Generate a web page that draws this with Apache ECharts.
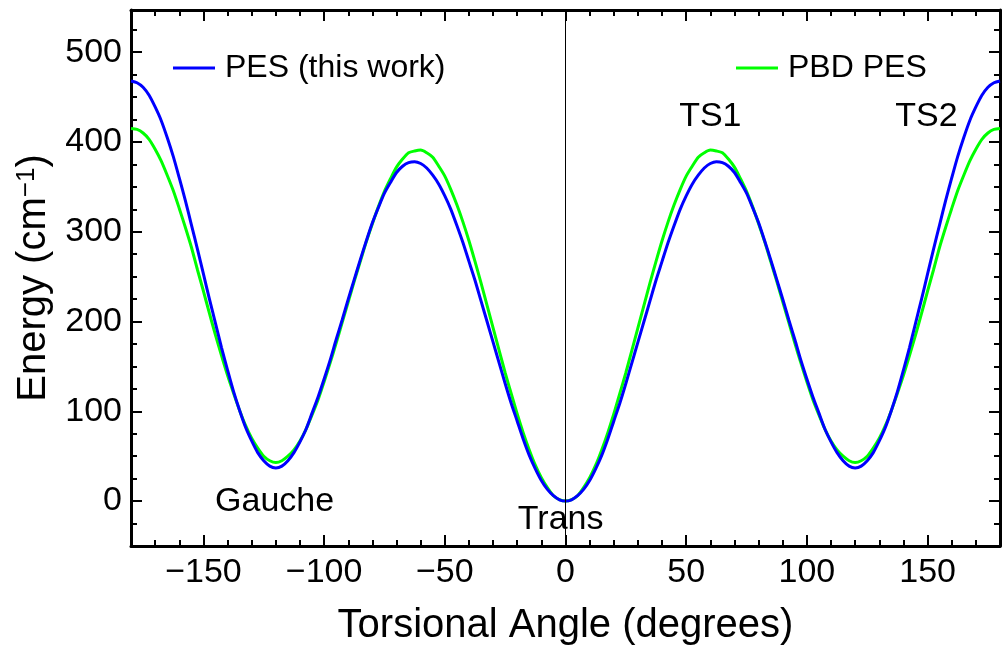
<!DOCTYPE html>
<html>
<head>
<meta charset="utf-8">
<script src="https://cdn.jsdelivr.net/npm/echarts@6/dist/echarts.min.js"></script>
<style>
  html, body { margin: 0; padding: 0; background: #fff; }
  #chart { width: 1003px; height: 656px; }
</style>
</head>
<body>
<div id="chart"></div>
<script>
// ---- data ----
const angles = [-180,-177.5,-175,-172.5,-170,-167.5,-165,-162.5,-160,-157.5,-155,-152.5,-150,-147.5,-145,-142.5,-140,-137.5,-135,-132.5,
  -130,-127.5,-125,-122.5,-120,-117.5,-115,-112.5,-110,-107.5,-105,-102.5,-100,-97.5,-95,-92.5,-90,-87.5,-85,-82.5,
  -80,-77.5,-75,-72.5,-70,-67.5,-65,-62.5,-60,-57.5,-55,-52.5,-50,-47.5,-45,-42.5,-40,-37.5,-35,-32.5,
  -30,-27.5,-25,-22.5,-20,-17.5,-15,-12.5,-10,-7.5,-5,-2.5,
  0,2.5,5,7.5,10,12.5,15,17.5,20,22.5,25,27.5,30,32.5,35,37.5,40,42.5,45,47.5,
  50,52.5,55,57.5,60,62.5,65,67.5,70,72.5,75,77.5,80,82.5,85,87.5,90,92.5,95,97.5,
  100,102.5,105,107.5,110,112.5,115,117.5,120,122.5,125,127.5,130,132.5,135,137.5,140,142.5,145,147.5,
  150,152.5,155,157.5,160,162.5,165,167.5,170,172.5,175,177.5,180];
const pesThisWork = [468,466,461,452,439,424,405,384,360,335,308,281,253,225,198,171,146,122,101,82,
  67,54,45,39,37,39,45,54,66,80,98,116,136,157,180,202,225,247,269,290,
  310,327,343,355,366,373,377,378,376,371,363,353,340,325,307,288,267,246,223,200,
  177,154,131,109,89,69,51,36,23,13,6,1.5,
  0,1.5,6,13,23,36,51,69,89,109,131,154,177,200,223,246,267,288,307,325,
  340,353,363,371,376,378,377,373,366,355,343,327,310,290,269,247,225,202,180,157,
  136,116,98,80,66,54,45,39,37,39,45,54,67,82,101,122,146,171,198,225,
  253,281,308,335,360,384,405,424,439,452,461,466,468];
const pbdPes = [415,414,410,403,392,379,363,346,326,305,283,258,234,209,185,162,140,120,101,84,
  70,59,50,45,43,45,50,57,67,80,96,113,133,154,176,199,222,245,267,289,
  309,328,345,359,372,381,388,390,391,388,383,373,362,347,330,311,290,267,243,218,
  193,168,143,120,97,76,57,40,26,15,6,1.6,
  0,1.6,6,15,26,40,57,76,97,120,143,168,193,218,243,267,290,311,330,347,
  362,373,383,388,391,390,388,381,372,359,345,328,309,289,267,245,222,199,176,154,
  133,113,96,80,67,57,50,45,43,45,50,59,70,84,101,120,140,162,185,209,
  234,258,283,305,326,346,363,379,392,403,410,414,415];
const seriesNames = ['PES (this work)', 'PBD PES'];
const xMajorTicks = [-150,-100,-50,0,50,100,150];
const xMinorTicks = [-170,-160,-140,-130,-120,-110,-90,-80,-70,-60,-40,-30,-20,-10,10,20,30,40,60,70,80,90,110,120,130,140,160,170];
const yMajorTicks = [0,100,200,300,400,500];
const yMinorTicks = [-25,25,50,75,125,150,175,225,250,275,325,350,375,425,450,475,525];
const annotations = [
  { name: 'TS1', value: [60, 428] },
  { name: 'TS2', value: [149.5, 428] },
  { name: 'Gauche', value: [-120.5, -1] },
  { name: 'Trans', value: [-2, -21] }
];

// ---- chart ----
const FONT = '"Liberation Sans", Arial, Helvetica, sans-serif';
const minus = v => String(v).replace('-', '\u2212');

function xAx(pos, ticks, len, showLine, showLabel) {
  return {
    type: 'value', position: pos, min: -180, max: 180,
    axisLine: { show: showLine, onZero: false, lineStyle: { color: '#000', width: 3 } },
    axisTick: { show: true, inside: true, length: len, customValues: ticks, lineStyle: { color: '#000', width: 2 } },
    axisLabel: showLabel ? { show: true, customValues: ticks, formatter: minus, fontSize: 34, color: '#000', fontFamily: FONT, margin: 10 } : { show: false },
    splitLine: { show: false }
  };
}
function yAx(pos, ticks, len, showLine, showLabel) {
  return {
    type: 'value', position: pos, min: -50, max: 547,
    axisLine: { show: showLine, onZero: false, lineStyle: { color: '#000', width: 3 } },
    axisTick: { show: true, inside: true, length: len, customValues: ticks, lineStyle: { color: '#000', width: 2 } },
    axisLabel: showLabel ? { show: true, customValues: ticks, formatter: minus, fontSize: 34, color: '#000', fontFamily: FONT, margin: 9 } : { show: false },
    splitLine: { show: false }
  };
}

const xAxes = [
  xAx('bottom', xMajorTicks, 11, true, true),
  xAx('bottom', xMinorTicks, 6, false, false),
  xAx('top', xMajorTicks, 11, true, false),
  xAx('top', xMinorTicks, 6, false, false)
];
Object.assign(xAxes[0], {
  name: 'Torsional Angle (degrees)', nameLocation: 'middle', nameGap: 60,
  nameTextStyle: { fontSize: 40, color: '#000', fontFamily: FONT }
});
const yAxes = [
  yAx('left', yMajorTicks, 11, true, true),
  yAx('left', yMinorTicks, 6, false, false),
  yAx('right', yMajorTicks, 11, true, false),
  yAx('right', yMinorTicks, 6, false, false)
];
Object.assign(yAxes[0], {
  name: '{a|Energy (cm}{s|\u22121}{a|)}', nameLocation: 'middle', nameGap: 72, nameRotate: 90,
  nameTextStyle: {
    color: '#000', fontFamily: FONT,
    rich: {
      a: { fontSize: 40, color: '#000', fontFamily: FONT },
      s: { fontSize: 26, color: '#000', fontFamily: FONT, verticalAlign: 'top', padding: [0, 0, 16, 0] }
    }
  }
});

const option = {
  animation: false,
  backgroundColor: '#fff',
  grid: { left: 131, right: 3, top: 10, bottom: 110, containLabel: false },
  xAxis: xAxes,
  yAxis: yAxes,
  legend: [
    { data: [seriesNames[0]], left: 168, top: 47, icon: 'rect', itemWidth: 42, itemHeight: 3, itemGap: 0,
      textStyle: { fontSize: 32, color: '#000', fontFamily: FONT, padding: [0, 0, 0, 5] } },
    { data: [seriesNames[1]], left: 731, top: 47, icon: 'rect', itemWidth: 42, itemHeight: 3, itemGap: 0,
      textStyle: { fontSize: 32, color: '#000', fontFamily: FONT, padding: [0, 0, 0, 5] } }
  ],
  series: [
    {
      name: seriesNames[1], type: 'line', xAxisIndex: 0, yAxisIndex: 0,
      data: angles.map((a, i) => [a, pbdPes[i]]),
      smooth: 0.25, showSymbol: false, symbol: 'none',
      lineStyle: { color: '#00ff00', width: 3 }, itemStyle: { color: '#00ff00' }, z: 2
    },
    {
      name: seriesNames[0], type: 'line', xAxisIndex: 0, yAxisIndex: 0,
      data: angles.map((a, i) => [a, pesThisWork[i]]),
      smooth: 0.25, showSymbol: false, symbol: 'none',
      lineStyle: { color: '#0000ff', width: 3 }, itemStyle: { color: '#0000ff' }, z: 3,
      markLine: {
        silent: true, symbol: ['none', 'none'], label: { show: false },
        lineStyle: { color: '#000', width: 1, type: 'solid' },
        data: [{ xAxis: 0 }], z: 10
      }
    },
    {
      type: 'scatter', xAxisIndex: 0, yAxisIndex: 0, symbolSize: 0, silent: true, z: 12,
      itemStyle: { opacity: 1 },
      data: annotations,
      label: { show: true, position: 'inside', formatter: p => p.name, fontSize: 34, color: '#000',
        textBorderWidth: 0, opacity: 1, fontFamily: FONT }
    }
  ]
};

const chart = echarts.init(document.getElementById('chart'), null, { renderer: 'canvas' });
chart.setOption(option);
</script>
</body>
</html>
